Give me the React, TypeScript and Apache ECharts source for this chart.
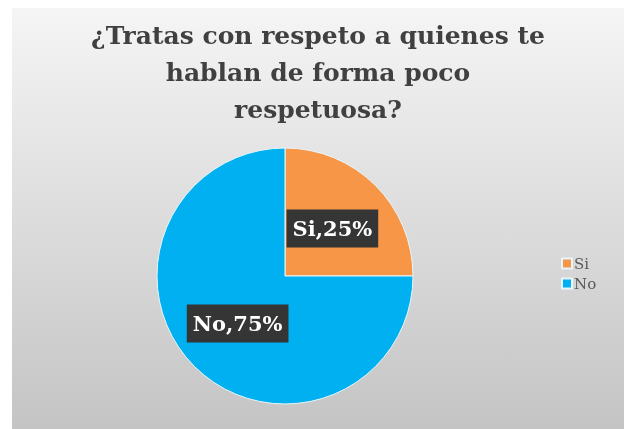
import React, { useEffect, useRef } from "react";
import * as echarts from "echarts";

const categories = ["Si", "No"];
const values = [25, 75];
const colors = ["#f79646", "#00b0f0"];
const titleText = "¿Tratas con respeto a quienes te\nhablan de forma poco\nrespetuosa?";

export default function App() {
  const ref = useRef<HTMLDivElement>(null);
  useEffect(() => {
    if (!ref.current) return;
    const chart = echarts.init(ref.current, null, { renderer: "svg" });
    chart.setOption({
      animation: false,
      graphic: [
        {
          type: "rect",
          left: 12,
          top: 8,
          shape: { width: 612, height: 421 },
          z: -10,
          silent: true,
          style: {
            fill: new echarts.graphic.LinearGradient(0, 0, 0, 1, [
              { offset: 0, color: "#f5f5f5" },
              { offset: 1, color: "#c4c4c4" },
            ]),
          },
        },
      ],
      title: {
        text: titleText,
        left: 318,
        top: 17,
        padding: 0,
        textAlign: "center",
        textStyle: {
          fontFamily: "DejaVu Serif",
          fontWeight: "bold",
          fontSize: 25,
          lineHeight: 37,
          color: "#404040",
        },
      },
      legend: {
        orient: "vertical",
        left: 556,
        top: 251,
        itemWidth: 10,
        itemHeight: 10,
        itemGap: 5,
        icon: "rect",
        textStyle: {
          fontFamily: "DejaVu Serif",
          fontSize: 15,
          color: "#595959",
          padding: [0, 0, 0, -3],
        },
        data: categories,
      },
      series: [
        {
          type: "pie",
          center: [285, 276],
          radius: 128,
          startAngle: 90,
          clockwise: true,
          color: colors,
          itemStyle: { borderColor: "#e8f6fc", borderWidth: 1 },
          label: {
            show: true,
            position: "inside",
            formatter: "{b},{d}%",
            fontFamily: "DejaVu Serif",
            fontWeight: "bold",
            fontSize: 21,
            color: "#ffffff",
            backgroundColor: "#353535",
            padding: [9, 6, 8, 6],
          },
          labelLine: { show: false },
          data: categories.map((c, i) => ({ name: c, value: values[i] })),
        },
      ],
    });
    return () => chart.dispose();
  }, []);
  return (
    <div
      ref={ref}
      style={{ position: "fixed", left: 0, top: 0, width: 624, height: 429 }}
    />
  );
}
